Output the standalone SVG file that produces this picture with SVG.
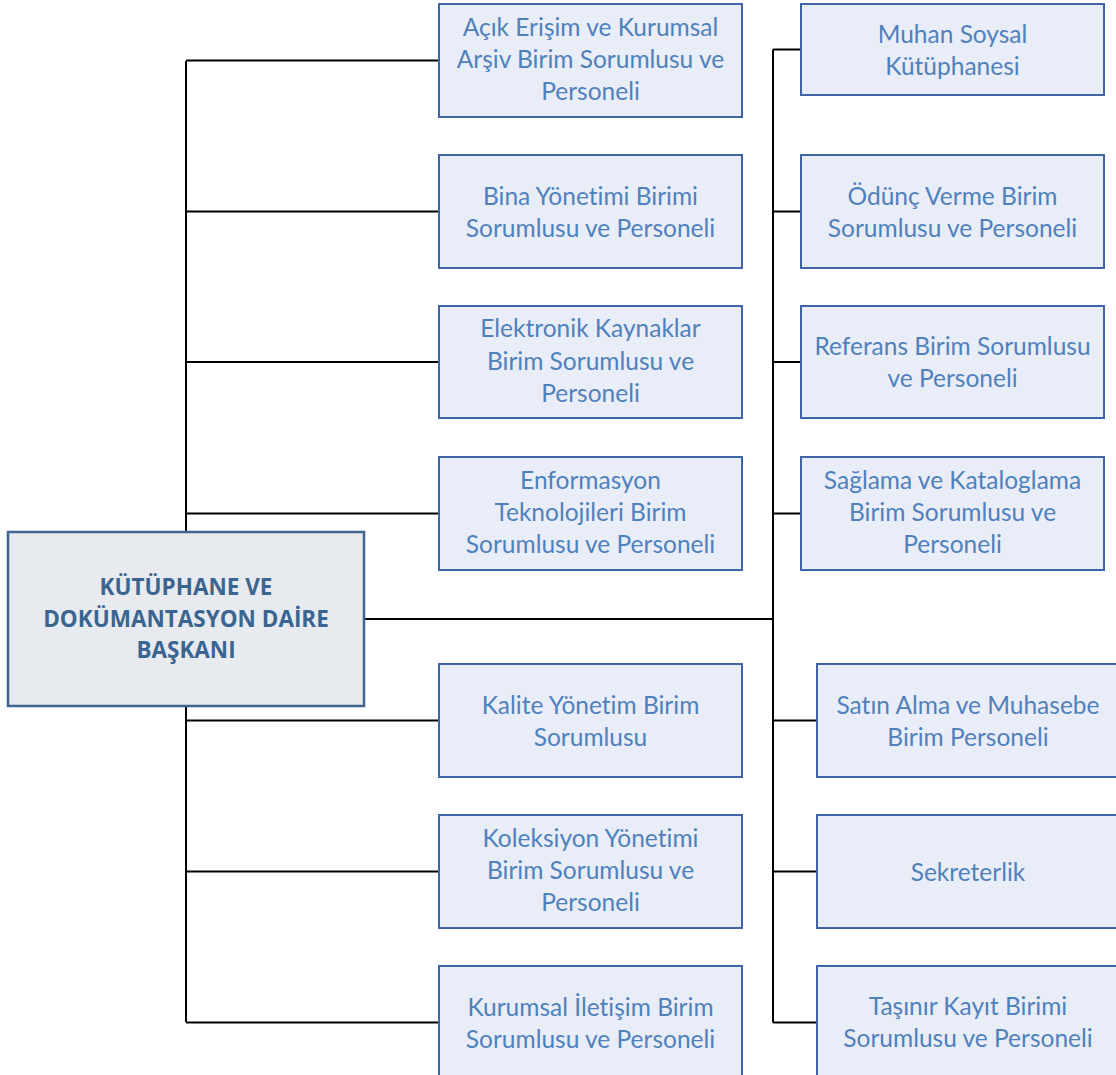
<svg xmlns="http://www.w3.org/2000/svg" width="1116" height="1075" viewBox="0 0 1116 1075">
<style>
.box{fill:#e9edf7;stroke:#4065a6;stroke-width:2}
.main{fill:#e7eaee;stroke:#3e6690;stroke-width:2.5}
.t{font-family:Lato,"Liberation Sans",sans-serif;font-size:24.5px;fill:#4f81bd;text-anchor:middle;font-variant-ligatures:none}
.mt{font-family:"Open Sans","Liberation Sans",sans-serif;font-size:22.5px;font-weight:bold;fill:#3b6591;text-anchor:middle}
.c{stroke:#000;stroke-width:2;fill:none}
</style>
<rect width="1116" height="1075" fill="#fff"/>
<g id="connectors" class="c">
<path d="M186,61V1022M186,60.5H439M186,211.5H439M186,362H439M186,513.5H439M186,720.5H439M186,871.5H439M186,1022.5H439"/>
<path d="M364,619H773M773,49.5V1022.5M773,49.5H801M773,211.5H801M773,362H801M773,513.5H801M773,720.5H817M773,871.5H817M773,1022.5H817"/>
</g>
<g id="main">
<rect class="main" x="8" y="532" width="356" height="174"/>
<text class="mt" x="186" y="595">KÜTÜPHANE VE</text>
<text class="mt" x="186" y="627">DOKÜMANTASYON DAİRE</text>
<text class="mt" x="186" y="658">BAŞKANI</text>
</g>
<g id="n1"><rect class="box" x="439" y="4" width="303" height="113"/>
<text class="t" x="590.5" y="36">Açık Erişim ve Kurumsal</text>
<text class="t" x="590.5" y="68">Arşiv Birim Sorumlusu ve</text>
<text class="t" x="590.5" y="100">Personeli</text></g>
<g id="n2"><rect class="box" x="439" y="155" width="303" height="113"/>
<text class="t" x="590.5" y="205">Bina Yönetimi Birimi</text>
<text class="t" x="590.5" y="237">Sorumlusu ve Personeli</text></g>
<g id="n3"><rect class="box" x="439" y="306" width="303" height="112"/>
<text class="t" x="590.5" y="337">Elektronik Kaynaklar</text>
<text class="t" x="590.5" y="370">Birim Sorumlusu ve</text>
<text class="t" x="590.5" y="402">Personeli</text></g>
<g id="n4"><rect class="box" x="439" y="457" width="303" height="113"/>
<text class="t" x="590.5" y="489">Enformasyon</text>
<text class="t" x="590.5" y="521">Teknolojileri Birim</text>
<text class="t" x="590.5" y="553">Sorumlusu ve Personeli</text></g>
<g id="n5"><rect class="box" x="439" y="664" width="303" height="113"/>
<text class="t" x="590.5" y="714">Kalite Yönetim Birim</text>
<text class="t" x="590.5" y="746">Sorumlusu</text></g>
<g id="n6"><rect class="box" x="439" y="815" width="303" height="113"/>
<text class="t" x="590.5" y="847">Koleksiyon Yönetimi</text>
<text class="t" x="590.5" y="879">Birim Sorumlusu ve</text>
<text class="t" x="590.5" y="911">Personeli</text></g>
<g id="n7"><rect class="box" x="439" y="966" width="303" height="113"/>
<text class="t" x="590.5" y="1016">Kurumsal İletişim Birim</text>
<text class="t" x="590.5" y="1048">Sorumlusu ve Personeli</text></g>
<g id="r1"><rect class="box" x="801" y="4" width="303" height="91"/>
<text class="t" x="952.5" y="43">Muhan Soysal</text>
<text class="t" x="952.5" y="75">Kütüphanesi</text></g>
<g id="r2"><rect class="box" x="801" y="155" width="303" height="113"/>
<text class="t" x="952.5" y="205">Ödünç Verme Birim</text>
<text class="t" x="952.5" y="237">Sorumlusu ve Personeli</text></g>
<g id="r3"><rect class="box" x="801" y="306" width="303" height="112"/>
<text class="t" x="952.5" y="355">Referans Birim Sorumlusu</text>
<text class="t" x="952.5" y="387">ve Personeli</text></g>
<g id="r4"><rect class="box" x="801" y="457" width="303" height="113"/>
<text class="t" x="952.5" y="489">Sağlama ve Kataloglama</text>
<text class="t" x="952.5" y="521">Birim Sorumlusu ve</text>
<text class="t" x="952.5" y="553">Personeli</text></g>
<g id="r5"><rect class="box" x="817" y="664" width="302" height="113"/>
<text class="t" x="968" y="714">Satın Alma ve Muhasebe</text>
<text class="t" x="968" y="746">Birim Personeli</text></g>
<g id="r6"><rect class="box" x="817" y="815" width="302" height="113"/>
<text class="t" x="968" y="881">Sekreterlik</text></g>
<g id="r7"><rect class="box" x="817" y="966" width="302" height="113"/>
<text class="t" x="968" y="1015">Taşınır Kayıt Birimi</text>
<text class="t" x="968" y="1047">Sorumlusu ve Personeli</text></g>
</svg>
